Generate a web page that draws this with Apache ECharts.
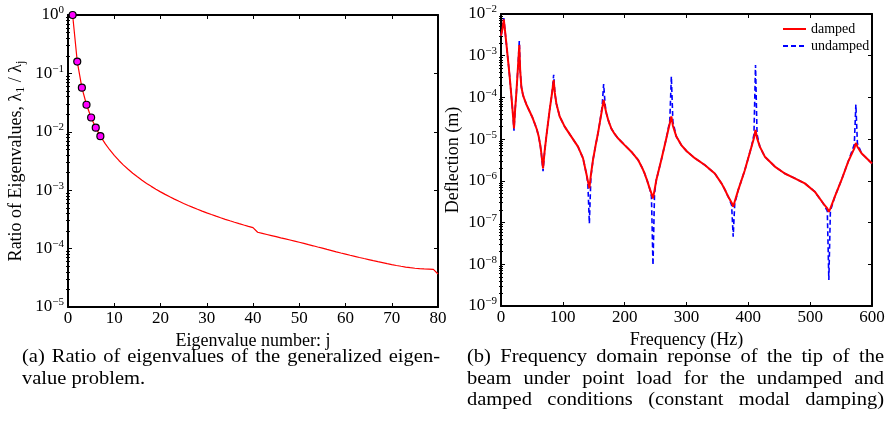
<!DOCTYPE html>
<html>
<head>
<meta charset="utf-8">
<script src="https://cdn.jsdelivr.net/npm/echarts@6/dist/echarts.min.js"></script>
<style>
  html, body { margin: 0; padding: 0; background: #fff; }
  #c { width: 890px; height: 433px; }
</style>
</head>
<body>
<div id="c"></div>
<script>
// ---- (a) ratio of eigenvalues lambda_1 / lambda_j, j = 1..80 ----
const eigenRatio = [
  1, 0.1596, 0.0570, 0.02908, 0.01759, 0.01178, 0.008431, 0.006332, 0.004930, 0.003947,
  0.003231, 0.002693, 0.002280, 0.001954, 0.001694, 0.001483, 0.001308, 0.001163, 0.001041, 0.0009367,
  0.0008476, 0.0007706, 0.0007036, 0.0006450, 0.0005934, 0.0005478, 0.0005072, 0.0004710, 0.0004385, 0.0004093,
  0.0003829, 0.0003590, 0.0003372, 0.0003174, 0.0002993, 0.0002826, 0.0002674, 0.0002533, 0.0002403, 0.0002283,
  1.905e-4, 1.824e-4, 1.746e-4, 1.671e-4, 1.600e-4, 1.531e-4, 1.466e-4, 1.403e-4, 1.343e-4, 1.285e-4,
  1.227e-4, 1.169e-4, 1.117e-4, 1.064e-4, 1.016e-4, 9.68e-5, 9.25e-5, 8.81e-5, 8.41e-5, 8.04e-5,
  7.69e-5, 7.36e-5, 7.05e-5, 6.76e-5, 6.49e-5, 6.22e-5, 5.97e-5, 5.74e-5, 5.52e-5, 5.32e-5,
  5.14e-5, 4.98e-5, 4.83e-5, 4.71e-5, 4.61e-5, 4.54e-5, 4.49e-5, 4.45e-5, 4.41e-5, 3.67e-5
];
// modes highlighted with markers
const markedModes = [1, 2, 3, 4, 5, 6, 7];

// ---- (b) tip deflection vs frequency ----
const freqHz = [
  0, 2.5, 4.5, 6.5, 8.6, 11, 14, 17.8, 19.5, 21,
  22.8, 24.8, 27.5, 29.6, 31, 32.9, 35.5, 38.3, 42, 46.4,
  50.5, 54.4, 58, 61, 63.5, 65.2, 68, 70.5, 73.3, 78.7,
  82.5, 85.2, 87, 89.5, 94.9, 103, 113.7, 124.5, 132.6, 138,
  140.4, 142.9, 145.4, 148.8, 152.8, 156.9, 160, 163.5, 166, 168.5,
  170.4, 174, 178.4, 183.5, 189.2, 200, 210.8, 221.6, 228, 232.3,
  236.5, 240.4, 243.3, 245.8, 248.3, 251.2, 259.3, 267.4, 273, 275.5,
  278, 283.6, 291.6, 300, 313.5, 329.6, 345.8, 356.6, 362, 367.4,
  373, 375.5, 378, 383.6, 394.3, 405.1, 409.1, 411.6, 414.1, 418.6,
  426.7, 442.9, 459, 475.2, 491.4, 507.5, 521, 527.7, 530.2, 532.7,
  539.9, 550.7, 561.5, 571.4, 573.9, 576.4, 583, 600
];
const dampedDefl = [
  3.0e-3, 4.5e-3, 7.4e-3, 4.0e-3, 2.0e-3, 8.9e-4, 3.2e-4, 7.2e-5, 3.5e-5, 1.8e-5,
  5.0e-5, 1.26e-4, 5.5e-4, 1.8e-3, 4.5e-4, 1.8e-4, 1.15e-4, 8.7e-5, 6.3e-5, 4.6e-5,
  3.4e-5, 2.4e-5, 1.7e-5, 1.15e-5, 7.2e-6, 4.6e-6, 2.0e-6, 5.0e-6, 1.15e-5, 5.0e-5,
  1.26e-4, 2.6e-4, 1.3e-4, 7.2e-5, 3.5e-5, 2.0e-5, 1.15e-5, 6.6e-6, 3.5e-6, 1.5e-6,
  1.0e-6, 6.6e-7, 1.4e-6, 3.2e-6, 6.8e-6, 1.4e-5, 2.6e-5, 5.2e-5, 8.7e-5, 5.6e-5,
  4.2e-5, 2.7e-5, 1.8e-5, 1.35e-5, 1.05e-5, 7.2e-6, 5.0e-6, 3.2e-6, 2.1e-6, 1.5e-6,
  1.0e-6, 6.6e-7, 5.0e-7, 3.8e-7, 6.0e-7, 1.05e-6, 3.2e-6, 1.05e-5, 2.4e-5, 3.5e-5,
  2.1e-5, 1.15e-5, 7.2e-6, 5.2e-6, 3.5e-6, 2.4e-6, 1.5e-6, 8.7e-7, 6.2e-7, 4.2e-7,
  3.0e-7, 2.4e-7, 3.2e-7, 6.0e-7, 1.8e-6, 6.6e-6, 1.07e-5, 1.66e-5, 1.05e-5, 6.6e-6,
  3.8e-6, 2.2e-6, 1.5e-6, 1.15e-6, 8.7e-7, 5.5e-7, 2.9e-7, 2.2e-7, 1.8e-7, 2.2e-7,
  4.2e-7, 1.05e-6, 2.9e-6, 6.0e-6, 8.1e-6, 6.6e-6, 4.6e-6, 2.6e-6
];
const undampedDefl = [
  3.0e-3, 4.6e-3, 8.0e-3, 4.0e-3, 2.0e-3, 8.9e-4, 3.2e-4, 7.2e-5, 3.5e-5, 1.6e-5,
  5.0e-5, 1.26e-4, 5.5e-4, 2.25e-3, 4.5e-4, 1.8e-4, 1.15e-4, 8.7e-5, 6.3e-5, 4.6e-5,
  3.4e-5, 2.4e-5, 1.7e-5, 1.15e-5, 7.2e-6, 4.6e-6, 1.7e-6, 5.0e-6, 1.15e-5, 5.0e-5,
  1.26e-4, 3.5e-4, 1.3e-4, 7.2e-5, 3.5e-5, 2.0e-5, 1.15e-5, 6.6e-6, 3.5e-6, 1.5e-6,
  9.0e-7, 9.5e-8, 1.25e-6, 3.2e-6, 6.8e-6, 1.4e-5, 2.6e-5, 6.0e-5, 2.1e-4, 6.5e-5,
  4.2e-5, 2.7e-5, 1.8e-5, 1.35e-5, 1.05e-5, 7.2e-6, 5.0e-6, 3.2e-6, 2.1e-6, 1.5e-6,
  1.0e-6, 6.6e-7, 4.2e-7, 9.5e-9, 5.0e-7, 1.05e-6, 3.2e-6, 1.05e-5, 2.8e-5, 3.2e-4,
  2.6e-5, 1.15e-5, 7.2e-6, 5.2e-6, 3.5e-6, 2.4e-6, 1.5e-6, 8.7e-7, 6.2e-7, 4.2e-7,
  2.6e-7, 4.6e-8, 2.8e-7, 6.0e-7, 1.8e-6, 6.6e-6, 1.3e-5, 6.0e-4, 1.3e-5, 6.6e-6,
  3.8e-6, 2.2e-6, 1.5e-6, 1.15e-6, 8.7e-7, 5.5e-7, 2.9e-7, 1.9e-7, 4.2e-9, 1.9e-7,
  4.2e-7, 1.05e-6, 2.9e-6, 7.5e-6, 6.8e-5, 8.0e-6, 4.6e-6, 2.6e-6
];

// ---- axis ticks ----
const modeTicks = [0, 10, 20, 30, 40, 50, 60, 70, 80];
const freqTicks = [0, 100, 200, 300, 400, 500, 600];
const ratioDecades = [1e-5, 1e-4, 1e-3, 1e-2, 1e-1, 1];
const deflDecades = [1e-9, 1e-8, 1e-7, 1e-6, 1e-5, 1e-4, 1e-3, 1e-2];

// ---- captions ----
const captionA = [
  '(a) Ratio of eigenvalues of the generalized eigen-',
  'value problem.'
];
const captionB = [
  '(b) Frequency domain reponse of the tip of the',
  'beam under point load for the undamped and',
  'damped conditions (constant modal damping)'
];

const serif = '"Liberation Serif", "Times New Roman", serif';

// minor ticks 2..9 inside every decade
function minorLogTicks(decades) {
  const out = [];
  for (let i = 0; i < decades.length - 1; i++) {
    for (let m = 2; m <= 9; m++) out.push(+(m * decades[i]).toPrecision(3));
  }
  return out;
}

function pow10Label(v) {
  const e = Math.round(Math.log10(v));
  return '{b|10}{s|' + (e < 0 ? '\u2212' + (-e) : String(e)) + '}';
}
const powRich = {
  b: { fontFamily: serif, fontSize: 17, color: '#000', lineHeight: 20 },
  s: { fontFamily: serif, fontSize: 11, color: '#000', lineHeight: 11, verticalAlign: 'top' }
};

function linAxis(gi, pos, ticks, labelled, name) {
  return {
    type: 'value', gridIndex: gi, position: pos,
    min: ticks[0], max: ticks[ticks.length - 1], interval: ticks[1] - ticks[0],
    axisLine: { show: true, onZero: false, lineStyle: { color: '#000', width: 2 } },
    axisTick: { show: true, inside: true, length: 4, lineStyle: { color: '#000', width: 1 } },
    axisLabel: { show: labelled, margin: 3, color: '#000', fontFamily: serif, fontSize: 17 },
    splitLine: { show: false },
    name: labelled ? name : '',
    nameLocation: 'middle', nameGap: 14,
    nameTextStyle: { fontFamily: serif, fontSize: 18, color: '#000' }
  };
}

// major/minor log axes for one grid: [left major, right major, minor, minor]
function logAxes(gi, decades, name, nameGap) {
  const min = decades[0], max = decades[decades.length - 1];
  const minors = minorLogTicks(decades);
  const common = { type: 'log', logBase: 10, gridIndex: gi, min: min, max: max, splitLine: { show: false } };
  return [
    Object.assign({}, common, {
      position: 'left',
      axisLine: { show: true, onZero: false, lineStyle: { color: '#000', width: 2 } },
      axisTick: { show: true, inside: true, length: 4, customValues: decades, lineStyle: { color: '#000', width: 1 } },
      axisLabel: { show: true, customValues: decades, margin: 4, formatter: pow10Label, rich: powRich },
      name: name, nameLocation: 'middle', nameRotate: 90, nameGap: nameGap,
      nameTextStyle: {
        fontFamily: serif, fontSize: 18, color: '#000',
        rich: {
          m: { fontFamily: serif, fontSize: 18, color: '#000', lineHeight: 22 },
          sub: { fontFamily: serif, fontSize: 12, color: '#000', lineHeight: 12, verticalAlign: 'bottom' }
        }
      }
    }),
    Object.assign({}, common, {
      position: 'right',
      axisLine: { show: true, onZero: false, lineStyle: { color: '#000', width: 2 } },
      axisTick: { show: true, inside: true, length: 4, customValues: decades, lineStyle: { color: '#000', width: 1 } },
      axisLabel: { show: false }
    }),
    Object.assign({}, common, {
      position: 'left',
      axisLine: { show: false },
      axisTick: { show: true, inside: true, length: 2, customValues: minors, lineStyle: { color: '#000', width: 1 } },
      axisLabel: { show: false }
    }),
    Object.assign({}, common, {
      position: 'right',
      axisLine: { show: false },
      axisTick: { show: true, inside: true, length: 2, customValues: minors, lineStyle: { color: '#000', width: 1 } },
      axisLabel: { show: false }
    })
  ];
}

// justified caption lines, one text element per word
const CAP_SIZE = 19, CAP_SX = 1.08, CAP_LINE = 21.6;
const measureCtx = document.createElement('canvas').getContext('2d');
function captionElements(lines, x0, x1, y0, justifyLast) {
  measureCtx.font = CAP_SIZE + 'px ' + serif;
  const spaceW = measureCtx.measureText(' ').width * CAP_SX;
  const els = [];
  lines.forEach(function (line, li) {
    const words = line.split(' ');
    const widths = words.map(function (w) { return measureCtx.measureText(w).width * CAP_SX; });
    const total = widths.reduce(function (a, b) { return a + b; }, 0);
    const justify = (li < lines.length - 1 || justifyLast) && words.length > 1;
    const gap = justify ? (x1 - x0 - total) / (words.length - 1) : spaceW;
    let x = x0;
    words.forEach(function (w, i) {
      els.push({
        type: 'text', x: x, y: y0 + li * CAP_LINE, scaleX: CAP_SX, silent: true,
        style: { text: w, fontFamily: serif, fontSize: CAP_SIZE, fill: '#000', textAlign: 'left', textVerticalAlign: 'middle' }
      });
      x += widths[i] + gap;
    });
  });
  return els;
}

const chart = echarts.init(document.getElementById('c'), null, { renderer: 'canvas', width: 890, height: 433 });

const option = {
  animation: false,
  backgroundColor: '#fff',
  grid: [
    { left: 68, top: 15, width: 370, height: 292 },
    { left: 501, top: 14, width: 371, height: 292 }
  ],
  xAxis: [
    linAxis(0, 'bottom', modeTicks, true, 'Eigenvalue number: j'),
    linAxis(0, 'top', modeTicks, false),
    linAxis(1, 'bottom', freqTicks, true, 'Frequency (Hz)'),
    linAxis(1, 'top', freqTicks, false)
  ],
  yAxis: [].concat(
    logAxes(0, ratioDecades, '{m|Ratio of Eigenvalues, \u03bb}{sub|1}{m| / \u03bb}{sub|j}', 41),
    logAxes(1, deflDecades, 'Deflection (m)', 39)
  ),
  legend: {
    data: ['damped', 'undamped'],
    orient: 'vertical', left: 777, top: 17,
    itemWidth: 23, itemHeight: 10, itemGap: 3,
    itemStyle: { opacity: 0 },
    textStyle: { fontFamily: serif, fontSize: 14, color: '#000' }
  },
  series: [
    {
      name: 'ratio', type: 'line', xAxisIndex: 0, yAxisIndex: 0,
      data: eigenRatio.map(function (v, i) { return [i + 1, v]; }),
      symbol: 'none', lineStyle: { color: '#ff0000', width: 1.2 }, z: 2
    },
    {
      name: 'marked', type: 'scatter', xAxisIndex: 0, yAxisIndex: 0,
      data: markedModes.map(function (j) { return [j, eigenRatio[j - 1]]; }),
      symbol: 'circle', symbolSize: 7,
      itemStyle: { color: '#ff00ff', borderColor: '#000', borderWidth: 1.2, opacity: 1 }, z: 3
    },
    {
      name: 'undamped', type: 'line', xAxisIndex: 2, yAxisIndex: 4,
      data: freqHz.map(function (f, i) { return [f, undampedDefl[i]]; }),
      symbol: 'none', itemStyle: { color: '#0000ff' },
      lineStyle: { color: '#0000ff', width: 1.6, type: [5, 3] }, z: 2
    },
    {
      name: 'damped', type: 'line', xAxisIndex: 2, yAxisIndex: 4,
      data: freqHz.map(function (f, i) { return [f, dampedDefl[i]]; }),
      symbol: 'none', itemStyle: { color: '#ff0000' },
      lineStyle: { color: '#ff0000', width: 2 }, z: 3
    }
  ],
  graphic: [].concat(
    captionElements(captionA, 22, 440, 357, false),
    captionElements(captionB, 467, 884, 357, true)
  )
};

chart.setOption(option);
</script>
</body>
</html>
